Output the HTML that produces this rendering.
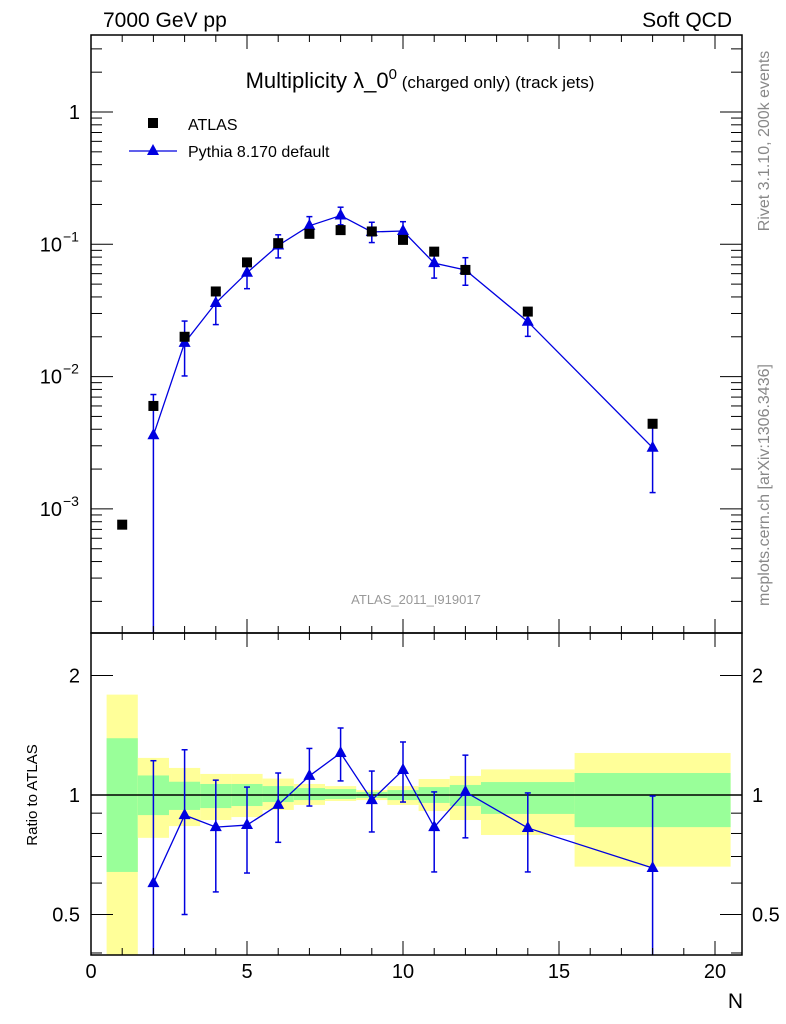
<!DOCTYPE html>
<html><head><meta charset="utf-8"><style>
body{margin:0;background:#fff;}
svg{display:block;font-family:"Liberation Sans",sans-serif;}
</style></head><body>
<svg id="c" width="786" height="1024" xmlns="http://www.w3.org/2000/svg"></svg>
<script>
const nVals=[2,3,4,5,6,7,8,9,10,11,12,14,18];
const atlasN=[1,2,3,4,5,6,7,8,9,10,11,12,14,18];
const atlasVals=[7.6e-4,6.0e-3,0.020,0.044,0.073,0.102,0.120,0.128,0.125,0.108,0.088,0.064,0.031,0.0044];
const pythiaVals=[3.6e-3,0.018,0.036,0.061,0.098,0.138,0.165,0.124,0.126,0.072,0.064,0.026,0.0029];
const ratioVals=[0.60,0.89,0.83,0.84,0.944,1.117,1.276,0.971,1.156,0.83,1.018,0.826,0.655];
const ratioUp=[1.22,1.30,1.09,1.047,1.136,1.31,1.475,1.149,1.36,1.018,1.26,1.012,0.994];
const ratioDn=[0.01,0.5,0.57,0.636,0.76,0.938,1.085,0.807,0.96,0.64,0.78,0.64,0.3];
const binLo=[0.5,1.5,2.5,3.5,4.5,5.5,6.5,7.5,8.5,9.5,10.5,11.5,12.5,15.5];
const binHi=[1.5,2.5,3.5,4.5,5.5,6.5,7.5,8.5,9.5,10.5,11.5,12.5,15.5,20.5];
const yelUp=[1.79,1.24,1.17,1.13,1.13,1.10,1.066,1.053,1.029,1.053,1.097,1.117,1.16,1.276];
const grnUp=[1.39,1.12,1.08,1.066,1.066,1.053,1.041,1.035,1.018,1.029,1.047,1.06,1.078,1.136];
const grnDn=[0.64,0.89,0.917,0.927,0.938,0.96,0.971,0.977,0.983,0.971,0.955,0.938,0.896,0.83];
const yelDn=[0.3,0.78,0.835,0.865,0.88,0.917,0.944,0.966,0.971,0.944,0.911,0.865,0.793,0.66];

const svg=document.getElementById('c');const NS='http://www.w3.org/2000/svg';
function el(t,a,txt){const e=document.createElementNS(NS,t);for(const k in a)e.setAttribute(k,a[k]);if(txt!==undefined)e.textContent=txt;svg.appendChild(e);return e;}
const L=91,R=742,T=35,M=633,B=955;
const X=v=>L+v*31.2;
const YM=v=>112-132.3*Math.log10(v);
const YR=v=>795-397*Math.log10(v);
const cl=(y,a,b)=>Math.max(a,Math.min(b,y));

for(let i=0;i<binLo.length;i++){
 let r=el('rect',{x:X(binLo[i]),y:cl(YR(yelUp[i]),M,B),width:X(binHi[i])-X(binLo[i]),height:cl(YR(yelDn[i]),M,B)-cl(YR(yelUp[i]),M,B),fill:'#ffff99'});
 
 let g=el('rect',{x:X(binLo[i]),y:cl(YR(grnUp[i]),M,B),width:X(binHi[i])-X(binLo[i]),height:cl(YR(grnDn[i]),M,B)-cl(YR(grnUp[i]),M,B),fill:'#99ff99'});
 
}
el('line',{x1:L,x2:R,y1:YR(1),y2:YR(1),stroke:'#000','stroke-width':1.5,});

const blue='#0000e0';
let pts=nVals.map((n,i)=>X(n)+','+YM(pythiaVals[i])).join(' ');
el('polyline',{points:pts,fill:'none',stroke:blue,'stroke-width':1.3,});
nVals.forEach((n,i)=>{
 const x=X(n),v=pythiaVals[i];
 const yu=cl(YM(v*ratioUp[i]/ratioVals[i]),T,M),yd=cl(YM(Math.max(1e-6,v*ratioDn[i]/ratioVals[i])),T,M);
 let e=el('line',{x1:x,x2:x,y1:yu,y2:yd,stroke:blue,'stroke-width':1.5});
 
 el('line',{x1:x-3,x2:x+3,y1:yu,y2:yu,stroke:blue,'stroke-width':1.5});
 if(yd<M)el('line',{x1:x-3,x2:x+3,y1:yd,y2:yd,stroke:blue,'stroke-width':1.5});
 const y=YM(v);
 let m=el('polygon',{points:`${x},${y-7} ${x-6},${y+4} ${x+6},${y+4}`,fill:blue});
 
});
atlasN.forEach((n,i)=>{
 const x=X(n),y=YM(atlasVals[i]);
 let m=el('rect',{x:x-5,y:y-5,width:10,height:10,fill:'#000'});
 
});
let rp=nVals.map((n,i)=>X(n)+','+YR(ratioVals[i])).join(' ');
el('polyline',{points:rp,fill:'none',stroke:blue,'stroke-width':1.3,});
nVals.forEach((n,i)=>{
 const x=X(n);const yu=cl(YR(ratioUp[i]),M,B),yd=cl(YR(ratioDn[i]),M,B);
 let e=el('line',{x1:x,x2:x,y1:yu,y2:yd,stroke:blue,'stroke-width':1.5});
 
 el('line',{x1:x-3,x2:x+3,y1:yu,y2:yu,stroke:blue,'stroke-width':1.5});
 if(yd<B)el('line',{x1:x-3,x2:x+3,y1:yd,y2:yd,stroke:blue,'stroke-width':1.5});
 const y=YR(ratioVals[i]);
 let m=el('polygon',{points:`${x},${y-7} ${x-6},${y+4} ${x+6},${y+4}`,fill:blue});
 
});

el('rect',{x:L,y:T,width:R-L,height:M-T,fill:'none',stroke:'#000','stroke-width':1.5,});
el('rect',{x:L,y:M,width:R-L,height:B-M,fill:'none',stroke:'#000','stroke-width':1.5,});
for(let v=0;v<=20.8;v+=1){
 const x=X(v),maj=v%5===0,len=maj?14:7;
 [[T,1],[M,-1],[M,1],[B,-1]].forEach(([y,d])=>el('line',{x1:x,x2:x,y1:y,y2:y+d*len,stroke:'#000','stroke-width':1}));
 if(maj){let t=el('text',{x:x,y:978,'font-size':20,'text-anchor':'middle'},String(v));}
}
for(let e=-4;e<=0;e++)for(let k=1;k<=9;k++){
 const v=k*Math.pow(10,e),y=YM(v);if(y<T||y>M)continue;
 const len=k===1?22:11;
 el('line',{x1:L,x2:L+len,y1:y,y2:y,stroke:'#000'});el('line',{x1:R,x2:R-len,y1:y,y2:y,stroke:'#000'});
}
const ml=[[0,'1'],[-1,'10'],[-2,'10'],[-3,'10']];
ml.forEach(([e,t])=>{const y=YM(Math.pow(10,e));
 if(e===0){let a=el('text',{x:80,y:y+7,'font-size':20,'text-anchor':'end'},'1');}
 else{let a=el('text',{x:62,y:y+7,'font-size':20,'text-anchor':'end'},'10');
  el('text',{x:63,y:y-3,'font-size':14},'−'+(-e));}
});
[0.4,0.5,0.6,0.7,0.8,0.9,1,2].forEach(v=>{const y=YR(v);const maj=(v===0.5||v===1||v===2);const len=maj?22:11;
 el('line',{x1:L,x2:L+len,y1:y,y2:y,stroke:'#000'});el('line',{x1:R,x2:R-len,y1:y,y2:y,stroke:'#000'});});
[[2,'2'],[1,'1'],[0.5,'0.5']].forEach(([v,t])=>{const y=YR(v)+7;
 let a=el('text',{x:80,y:y,'font-size':20,'text-anchor':'end'},t);
 let b=el('text',{x:752,y:y,'font-size':20},t);});

el('text',{x:103,y:27,'font-size':21,},'7000 GeV pp');
el('text',{x:732,y:27,'font-size':21,'text-anchor':'end',},'Soft QCD');
let tt=el('text',{x:420,y:88,'font-size':22,'text-anchor':'middle',});
tt.innerHTML='Multiplicity λ_0<tspan dy="-9" font-size="15">0</tspan><tspan dy="9" font-size="17"> (charged only) (track jets)</tspan>';
el('rect',{x:148,y:118,width:10,height:10,fill:'#000',});
el('text',{x:188,y:130,'font-size':16,},'ATLAS');
el('line',{x1:129,x2:177,y1:151,y2:151,stroke:blue,'stroke-width':1.3});
el('polygon',{points:'153,144 147,155 159,155',fill:blue,});
el('text',{x:188,y:157,'font-size':16,},'Pythia 8.170 default');
el('text',{x:416,y:604,'font-size':13,fill:'#999','text-anchor':'middle',},'ATLAS_2011_I919017');
el('text',{x:0,y:0,'font-size':16,fill:'#888','text-anchor':'middle',transform:'translate(769,141) rotate(-90)',},'Rivet 3.1.10,  200k events');
el('text',{x:0,y:0,'font-size':16,fill:'#888','text-anchor':'middle',transform:'translate(769,485) rotate(-90)',},'mcplots.cern.ch [arXiv:1306.3436]');
el('text',{x:0,y:0,'font-size':15,'text-anchor':'middle',transform:'translate(37,795) rotate(-90)',},'Ratio to ATLAS');
el('text',{x:743,y:1008,'font-size':21,'text-anchor':'end',},'N');
</script>
</body></html>
